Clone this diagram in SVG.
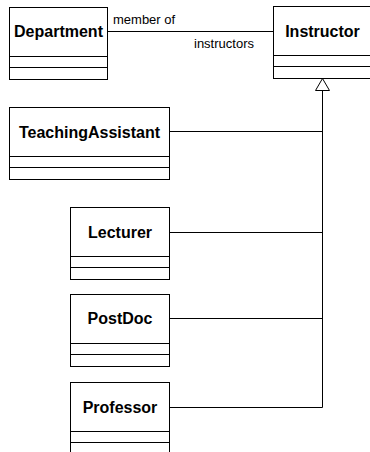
<svg xmlns="http://www.w3.org/2000/svg" width="370" height="452" viewBox="0 0 370 452">
<style>
.box{fill:#fff;stroke:#000;stroke-width:1}
.div{stroke:#000;stroke-width:1}
.name{font-family:"Liberation Sans",Arial,sans-serif;font-weight:bold;font-size:16px;text-anchor:middle;fill:#000}
.lbl{font-family:"Liberation Sans",Arial,sans-serif;font-size:13px;fill:#000}
.conn{stroke:#000;stroke-width:1;fill:none}
</style>
<rect width="370" height="452" fill="#fff"/>
<g id="connectors">
<path class="conn" d="M107.5,31.5 H273.5"/>
<path class="conn" d="M322.5,90.5 V407.5"/>
<path class="conn" d="M169.5,131.5 H322.5"/>
<path class="conn" d="M169.5,232.5 H322.5"/>
<path class="conn" d="M169.5,318.5 H322.5"/>
<path class="conn" d="M169.5,407.5 H322.5"/>
<polygon points="322.5,78.5 315.5,90.5 329.5,90.5" fill="#fff" stroke="#000" stroke-width="1"/>
<text class="lbl" x="113" y="24">member of</text>
<text class="lbl" x="194" y="48">instructors</text>
</g>
<g id="Department">
<rect class="box" x="9.5" y="7.5" width="98" height="72"/>
<path class="div" d="M9.5,56.5 H107.5 M9.5,67.5 H107.5"/>
<text class="name" x="58.5" y="37">Department</text>
</g>
<g id="Instructor">
<rect class="box" x="273.5" y="6.5" width="100" height="72"/>
<path class="div" d="M273.5,55.5 H373.5 M273.5,66.5 H373.5"/>
<text class="name" x="322.5" y="37">Instructor</text>
</g>
<g id="TeachingAssistant">
<rect class="box" x="9.5" y="107.5" width="160" height="72"/>
<path class="div" d="M9.5,156.5 H169.5 M9.5,167.5 H169.5"/>
<text class="name" x="89.5" y="137.5">TeachingAssistant</text>
</g>
<g id="Lecturer">
<rect class="box" x="70.5" y="207.5" width="99" height="72"/>
<path class="div" d="M70.5,256.5 H169.5 M70.5,267.5 H169.5"/>
<text class="name" x="120" y="238">Lecturer</text>
</g>
<g id="PostDoc">
<rect class="box" x="70.5" y="294.5" width="99" height="72"/>
<path class="div" d="M70.5,343.5 H169.5 M70.5,354.5 H169.5"/>
<text class="name" x="120" y="324">PostDoc</text>
</g>
<g id="Professor">
<rect class="box" x="70.5" y="382.5" width="99" height="72"/>
<path class="div" d="M70.5,431.5 H169.5 M70.5,442.5 H169.5"/>
<text class="name" x="120" y="413">Professor</text>
</g>
</svg>
